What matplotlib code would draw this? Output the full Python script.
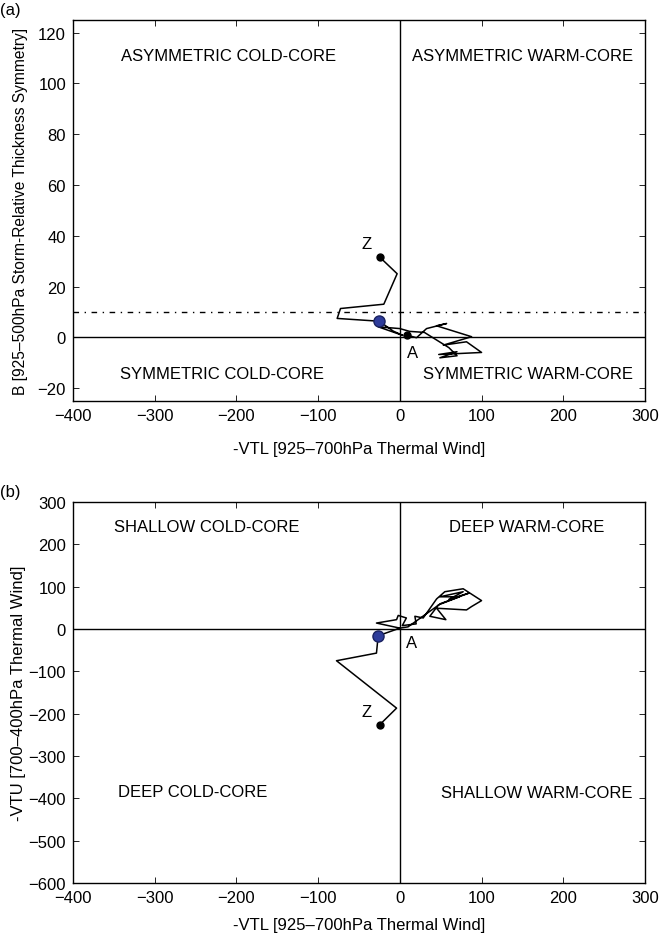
import matplotlib
matplotlib.use("Agg")
import matplotlib.pyplot as plt

plt.rcParams['font.family'] = ['Liberation Sans', 'DejaVu Sans']
plt.rcParams['font.size'] = 12

# Panel (a): -VTL vs B
a_x = [9, 20.4, 32.7, 57.2, 44.9, 87.8, 53.2, 81.6, 100, 47.6, 69.9, 49, 70, 60, 30,
       12, 0, -26.5, 3.7, -8, -25.3, -76.7, -72.6, -19.6, -3.3, -24.5]
a_y = [0.9, -0.1, 3.5, 5.5, 4.6, 0.3, -3.0, -1.7, -5.9, -6.7, -5.6, -8, -7.2, -4, 2,
       2.4, 3.5, 4.2, 0.8, 2.5, 6.4, 7.5, 11.4, 13.1, 25.1, 31.6]
a_start = (9, 0.9)
a_blue = (-25.3, 6.4)
a_end = (-24.5, 31.6)

# Panel (b): -VTL vs -VTU
b_x = [0, -28.6, -4, -2, 8, 3, 20, 18.4, 28.6, 45, 55, 77.5, 100, 87.8, 81.6, 45,
       56.3, 36.7, 47.3, 73, 49, 77.5, 60, 85, 50, 10, 0, -26.5, -28.6, -77.5, -4, -24.5]
b_y = [2, 14, 22, 32, 26, 8, 12, 30, 26, 71, 88, 95, 67, 53, 45, 49,
       22, 30, 57, 76, 76, 88, 70, 85, 60, 5, 2, -16, -57, -75, -187, -226]
b_blue = (-26.5, -16)
b_end = (-24.5, -226)

xlabel = "-VTL [925\u2013700hPa Thermal Wind]"
a_ylabel = "B [925\u2013500hPa Storm-Relative Thickness Symmetry]"
b_ylabel = "-VTU [700\u2013400hPa Thermal Wind]"
a_quads = [("ASYMMETRIC COLD-CORE", -210, 111), ("ASYMMETRIC WARM-CORE", 150, 111),
           ("SYMMETRIC COLD-CORE", -218, -14), ("SYMMETRIC WARM-CORE", 157, -14)]
b_quads = [("SHALLOW COLD-CORE", -236, 241), ("DEEP WARM-CORE", 155, 241),
           ("DEEP COLD-CORE", -253, -385), ("SHALLOW WARM-CORE", 168, -387)]

fig = plt.figure(figsize=(6.67, 9.37), dpi=100)
ax1 = fig.add_axes([0.1094, 0.571, 0.8576, 0.4066])
ax2 = fig.add_axes([0.1094, 0.0566, 0.8576, 0.4066])

def style(ax, pad):
    ax.tick_params(direction='in', top=True, right=True, length=4, width=0.6, labelsize=12, pad=5)
    for s in ax.spines.values():
        s.set_linewidth(1.0)
    ax.set_xlim(-400, 300)
    ax.set_xticks(range(-400, 301, 100))
    ax.set_xlabel(xlabel, fontsize=12, labelpad=pad)

style(ax1, 13)
ax1.set_ylim(-25, 125)
ax1.set_yticks(range(-20, 121, 20))
ax1.axhline(0, color='black', lw=1.0)
ax1.axvline(0, color='black', lw=1.0)
ax1.axhline(10, color='black', lw=1.0, linestyle=(0, (4, 4, 1, 4)))
ax1.plot(a_x, a_y, color='black', lw=1.1)
ax1.plot(*a_start, 'o', color='black', ms=5)
ax1.plot(*a_end, 'o', color='black', ms=5)
ax1.plot(*a_blue, 'o', color='#2e3c9a', mec='#1a2260', ms=8)
ax1.text(-41, 37, "Z", fontsize=12, ha='center', va='center')
ax1.text(16, -6, "A", fontsize=12, ha='center', va='center')
for t, x, y in a_quads:
    ax1.text(x, y, t, fontsize=12, ha='center', va='center')
ax1.set_ylabel(a_ylabel, fontsize=11.2, labelpad=7)

style(ax2, 9)
ax2.set_ylim(-600, 300)
ax2.set_yticks(range(-600, 301, 100))
ax2.axhline(0, color='black', lw=1.0)
ax2.axvline(0, color='black', lw=1.0)
ax2.plot(b_x, b_y, color='black', lw=1.1)
ax2.plot(*b_end, 'o', color='black', ms=5)
ax2.plot(*b_blue, 'o', color='#2e3c9a', mec='#1a2260', ms=8)
ax2.text(-41, -195, "Z", fontsize=12, ha='center', va='center')
ax2.text(14, -31, "A", fontsize=12, ha='center', va='center')
for t, x, y in b_quads:
    ax2.text(x, y, t, fontsize=12, ha='center', va='center')
ax2.set_ylabel(b_ylabel, fontsize=12, labelpad=2)

fig.text(0.0, 0.989, "(a)", fontsize=12, ha='left', va='center')
fig.text(0.0, 0.474, "(b)", fontsize=12, ha='left', va='center')

fig.savefig("out.png", dpi=100)
